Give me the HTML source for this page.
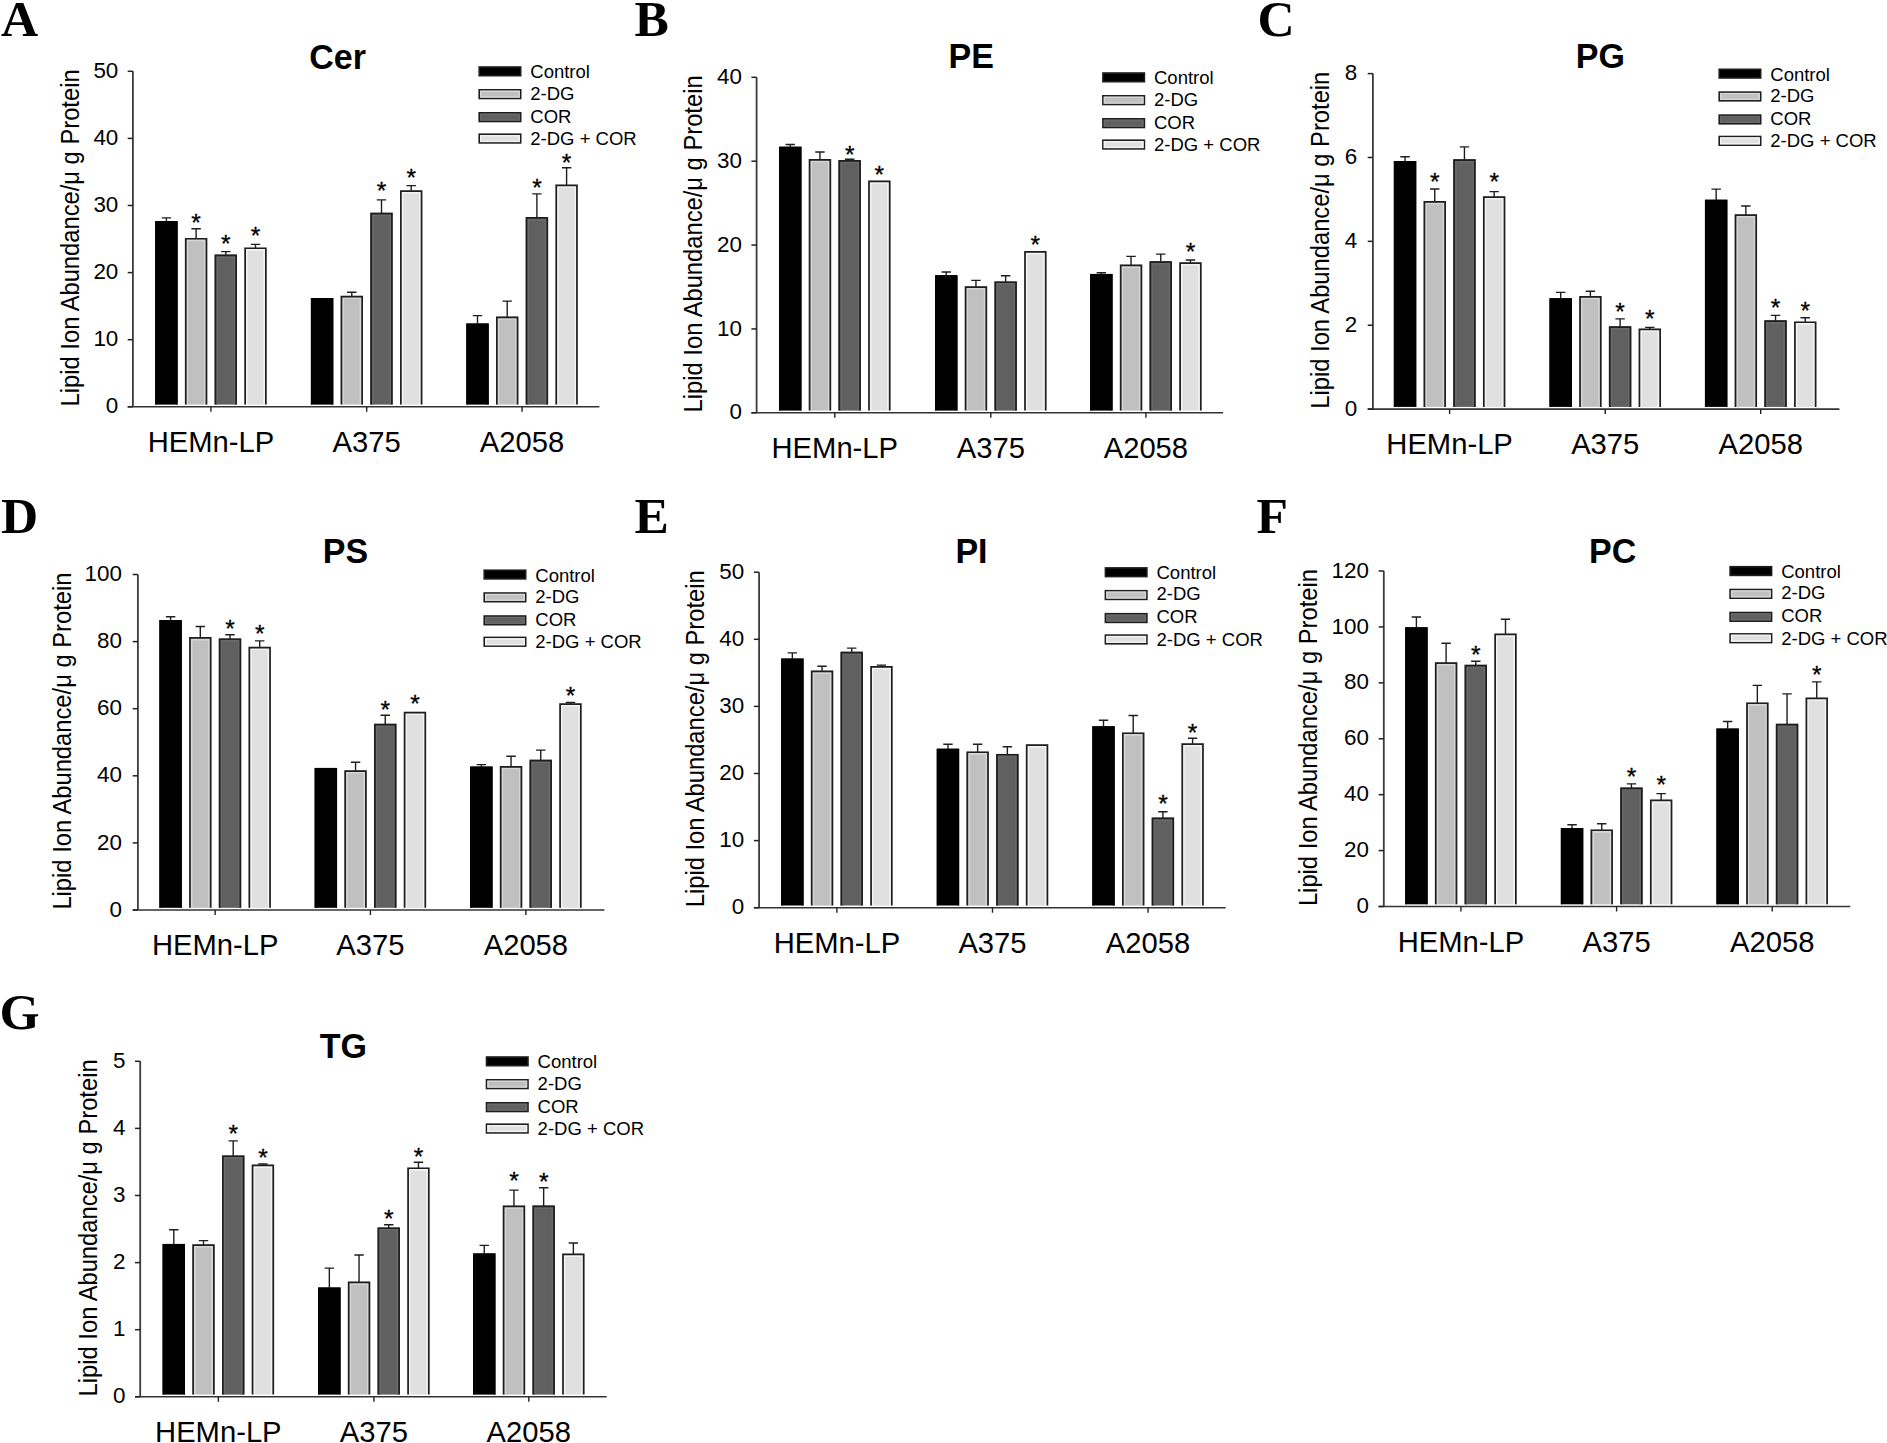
<!DOCTYPE html>
<html><head><meta charset="utf-8"><title>Lipid ion abundance</title>
<style>
html,body{margin:0;padding:0;background:#fff;}
svg{display:block;}
text{font-family:"Liberation Sans",Arial,sans-serif;fill:#000;}
.tk{font-size:22.4px;text-anchor:end;}
.cat{font-size:29.2px;text-anchor:middle;}
.yl{font-size:23.75px;}
.lg{font-size:18.5px;}
.ti{font-size:34px;font-weight:bold;text-anchor:middle;}
.pl{font-family:"Liberation Serif","Times New Roman",serif;font-size:51.5px;font-weight:bold;}
.st{font-size:24.5px;text-anchor:middle;stroke:#000;stroke-width:0.3px;}
</style></head>
<body>
<svg width="1887" height="1443" viewBox="0 0 1887 1443">
<rect width="1887" height="1443" fill="#fff"/>
<rect x="155.2" y="221" width="22.4" height="183.6" fill="#000000"/>
<path d="M156.05 404.6V221.85H176.75V404.6" fill="none" stroke="#000" stroke-width="1.7"/>
<path d="M166.4 221.5V217.9M161.7 217.9H171.1" stroke="#1e1e1e" stroke-width="1.4" fill="none"/>
<rect x="184.9" y="237.9" width="22.4" height="166.7" fill="#c0c0c0"/>
<path d="M187.4 404.6V240.4H204.8V404.6" fill="none" stroke="#d6d6d6" stroke-width="1.6"/>
<path d="M185.75 404.6V238.75H206.45V404.6" fill="none" stroke="#1e1e1e" stroke-width="1.7"/>
<path d="M196.1 238.4V228.8M191.4 228.8H200.8" stroke="#1e1e1e" stroke-width="1.4" fill="none"/>
<text x="196.1" y="231.1" class="st">*</text>
<rect x="214.6" y="254.6" width="22.4" height="150" fill="#606060"/>
<path d="M217.1 404.6V257.1H234.5V404.6" fill="none" stroke="#6a6a6a" stroke-width="1.6"/>
<path d="M215.45 404.6V255.45H236.15V404.6" fill="none" stroke="#1e1e1e" stroke-width="1.7"/>
<path d="M225.8 255.1V251.6M221.1 251.6H230.5" stroke="#1e1e1e" stroke-width="1.4" fill="none"/>
<text x="225.8" y="251.5" class="st">*</text>
<rect x="244.3" y="247.4" width="22.4" height="157.2" fill="#e0e0e0"/>
<path d="M246.8 404.6V249.9H264.2V404.6" fill="none" stroke="#f3f3f3" stroke-width="1.6"/>
<path d="M245.15 404.6V248.25H265.85V404.6" fill="none" stroke="#1e1e1e" stroke-width="1.7"/>
<path d="M255.5 247.9V244.4M250.8 244.4H260.2" stroke="#1e1e1e" stroke-width="1.4" fill="none"/>
<text x="255.5" y="244.3" class="st">*</text>
<rect x="310.9" y="298.1" width="22.4" height="106.5" fill="#000000"/>
<path d="M311.75 404.6V298.95H332.45V404.6" fill="none" stroke="#000" stroke-width="1.7"/>
<rect x="340.6" y="295.8" width="22.4" height="108.8" fill="#c0c0c0"/>
<path d="M343.1 404.6V298.3H360.5V404.6" fill="none" stroke="#d6d6d6" stroke-width="1.6"/>
<path d="M341.45 404.6V296.65H362.15V404.6" fill="none" stroke="#1e1e1e" stroke-width="1.7"/>
<path d="M351.8 296.3V292.3M347.1 292.3H356.5" stroke="#1e1e1e" stroke-width="1.4" fill="none"/>
<rect x="370.3" y="212.7" width="22.4" height="191.9" fill="#606060"/>
<path d="M372.8 404.6V215.2H390.2V404.6" fill="none" stroke="#6a6a6a" stroke-width="1.6"/>
<path d="M371.15 404.6V213.55H391.85V404.6" fill="none" stroke="#1e1e1e" stroke-width="1.7"/>
<path d="M381.5 213.2V199.9M376.8 199.9H386.2" stroke="#1e1e1e" stroke-width="1.4" fill="none"/>
<text x="381.5" y="198.7" class="st">*</text>
<rect x="400" y="190.2" width="22.4" height="214.4" fill="#e0e0e0"/>
<path d="M402.5 404.6V192.7H419.9V404.6" fill="none" stroke="#f3f3f3" stroke-width="1.6"/>
<path d="M400.85 404.6V191.05H421.55V404.6" fill="none" stroke="#1e1e1e" stroke-width="1.7"/>
<path d="M411.2 190.7V185.6M406.5 185.6H415.9" stroke="#1e1e1e" stroke-width="1.4" fill="none"/>
<text x="411.2" y="185.6" class="st">*</text>
<rect x="466.3" y="323.5" width="22.4" height="81.1" fill="#000000"/>
<path d="M467.15 404.6V324.35H487.85V404.6" fill="none" stroke="#000" stroke-width="1.7"/>
<path d="M477.5 324V315.6M472.8 315.6H482.2" stroke="#1e1e1e" stroke-width="1.4" fill="none"/>
<rect x="496" y="316.5" width="22.4" height="88.1" fill="#c0c0c0"/>
<path d="M498.5 404.6V319H515.9V404.6" fill="none" stroke="#d6d6d6" stroke-width="1.6"/>
<path d="M496.85 404.6V317.35H517.55V404.6" fill="none" stroke="#1e1e1e" stroke-width="1.7"/>
<path d="M507.2 317V301.1M502.5 301.1H511.9" stroke="#1e1e1e" stroke-width="1.4" fill="none"/>
<rect x="525.7" y="217.1" width="22.4" height="187.5" fill="#606060"/>
<path d="M528.2 404.6V219.6H545.6V404.6" fill="none" stroke="#6a6a6a" stroke-width="1.6"/>
<path d="M526.55 404.6V217.95H547.25V404.6" fill="none" stroke="#1e1e1e" stroke-width="1.7"/>
<path d="M536.9 217.6V193.9M532.2 193.9H541.6" stroke="#1e1e1e" stroke-width="1.4" fill="none"/>
<text x="536.9" y="195.5" class="st">*</text>
<rect x="555.4" y="184.5" width="22.4" height="220.1" fill="#e0e0e0"/>
<path d="M557.9 404.6V187H575.3V404.6" fill="none" stroke="#f3f3f3" stroke-width="1.6"/>
<path d="M556.25 404.6V185.35H576.95V404.6" fill="none" stroke="#1e1e1e" stroke-width="1.7"/>
<path d="M566.6 185V167.7M561.9 167.7H571.3" stroke="#1e1e1e" stroke-width="1.4" fill="none"/>
<text x="566.6" y="171.3" class="st">*</text>
<path d="M127.7 406.8H599.4" stroke="#333" stroke-width="1.6" fill="none"/>
<path d="M132.9 406.8V71.3" stroke="#3c3c3c" stroke-width="1.8" fill="none"/>
<path d="M127.7 406.8H132.9" stroke="#222" stroke-width="1.5"/>
<text x="118.3" y="413.4" class="tk">0</text>
<path d="M127.7 339.7H132.9" stroke="#222" stroke-width="1.5"/>
<text x="118.3" y="346.3" class="tk">10</text>
<path d="M127.7 272.6H132.9" stroke="#222" stroke-width="1.5"/>
<text x="118.3" y="279.2" class="tk">20</text>
<path d="M127.7 205.5H132.9" stroke="#222" stroke-width="1.5"/>
<text x="118.3" y="212.1" class="tk">30</text>
<path d="M127.7 138.4H132.9" stroke="#222" stroke-width="1.5"/>
<text x="118.3" y="145" class="tk">40</text>
<path d="M127.7 71.3H132.9" stroke="#222" stroke-width="1.5"/>
<text x="118.3" y="77.9" class="tk">50</text>
<path d="M210.95 406.8V411.8" stroke="#222" stroke-width="1.4"/>
<text x="210.95" y="451.8" class="cat">HEMn-LP</text>
<path d="M366.65 406.8V411.8" stroke="#222" stroke-width="1.4"/>
<text x="366.65" y="451.8" class="cat">A375</text>
<path d="M522.05 406.8V411.8" stroke="#222" stroke-width="1.4"/>
<text x="522.05" y="451.8" class="cat">A2058</text>
<text transform="translate(78.5 406.4) rotate(-90) scale(1 1.09)" class="yl">Lipid Ion Abundance/&#956; g Protein</text>
<rect x="479.2" y="67" width="41.5" height="8.7" fill="#000000" stroke="#1e1e1e" stroke-width="1.6"/>
<text x="530.3" y="78.4" class="lg">Control</text>
<rect x="479.2" y="89.8" width="41.5" height="8.7" fill="#c0c0c0" stroke="#1e1e1e" stroke-width="1.6"/>
<rect x="480.7" y="91.3" width="38.5" height="5.7" fill="none" stroke="#d6d6d6" stroke-width="1.4"/>
<text x="530.3" y="99.5" class="lg">2-DG</text>
<rect x="479.2" y="112.8" width="41.5" height="8.7" fill="#606060" stroke="#1e1e1e" stroke-width="1.6"/>
<rect x="480.7" y="114.3" width="38.5" height="5.7" fill="none" stroke="#6a6a6a" stroke-width="1.4"/>
<text x="530.3" y="122.5" class="lg">COR</text>
<rect x="479.2" y="134.2" width="41.5" height="8.7" fill="#e0e0e0" stroke="#1e1e1e" stroke-width="1.6"/>
<rect x="480.7" y="135.7" width="38.5" height="5.7" fill="none" stroke="#f3f3f3" stroke-width="1.4"/>
<text x="530.3" y="144.9" class="lg">2-DG + COR</text>
<text transform="translate(337.6 68.9) scale(1 1.05)" class="ti">Cer</text>
<text x="1" y="36" class="pl">A</text>
<rect x="779.05" y="146.7" width="22.4" height="263.9" fill="#000000"/>
<path d="M779.9 410.6V147.55H800.6V410.6" fill="none" stroke="#000" stroke-width="1.7"/>
<path d="M790.25 147.2V144.5M785.55 144.5H794.95" stroke="#1e1e1e" stroke-width="1.4" fill="none"/>
<rect x="808.75" y="159" width="22.4" height="251.6" fill="#c0c0c0"/>
<path d="M811.25 410.6V161.5H828.65V410.6" fill="none" stroke="#d6d6d6" stroke-width="1.6"/>
<path d="M809.6 410.6V159.85H830.3V410.6" fill="none" stroke="#1e1e1e" stroke-width="1.7"/>
<path d="M819.95 159.5V152M815.25 152H824.65" stroke="#1e1e1e" stroke-width="1.4" fill="none"/>
<rect x="838.45" y="160" width="22.4" height="250.6" fill="#606060"/>
<path d="M840.95 410.6V162.5H858.35V410.6" fill="none" stroke="#6a6a6a" stroke-width="1.6"/>
<path d="M839.3 410.6V160.85H860V410.6" fill="none" stroke="#1e1e1e" stroke-width="1.7"/>
<path d="M849.65 160.5V159.3M844.95 159.3H854.35" stroke="#1e1e1e" stroke-width="1.4" fill="none"/>
<text x="849.65" y="162.6" class="st">*</text>
<rect x="868.15" y="180.5" width="22.4" height="230.1" fill="#e0e0e0"/>
<path d="M870.65 410.6V183H888.05V410.6" fill="none" stroke="#f3f3f3" stroke-width="1.6"/>
<path d="M869 410.6V181.35H889.7V410.6" fill="none" stroke="#1e1e1e" stroke-width="1.7"/>
<text x="879.35" y="183.1" class="st">*</text>
<rect x="935.05" y="275.2" width="22.4" height="135.4" fill="#000000"/>
<path d="M935.9 410.6V276.05H956.6V410.6" fill="none" stroke="#000" stroke-width="1.7"/>
<path d="M946.25 275.7V272M941.55 272H950.95" stroke="#1e1e1e" stroke-width="1.4" fill="none"/>
<rect x="964.75" y="286.2" width="22.4" height="124.4" fill="#c0c0c0"/>
<path d="M967.25 410.6V288.7H984.65V410.6" fill="none" stroke="#d6d6d6" stroke-width="1.6"/>
<path d="M965.6 410.6V287.05H986.3V410.6" fill="none" stroke="#1e1e1e" stroke-width="1.7"/>
<path d="M975.95 286.7V280.4M971.25 280.4H980.65" stroke="#1e1e1e" stroke-width="1.4" fill="none"/>
<rect x="994.45" y="281.4" width="22.4" height="129.2" fill="#606060"/>
<path d="M996.95 410.6V283.9H1014.35V410.6" fill="none" stroke="#6a6a6a" stroke-width="1.6"/>
<path d="M995.3 410.6V282.25H1016V410.6" fill="none" stroke="#1e1e1e" stroke-width="1.7"/>
<path d="M1005.65 281.9V275.8M1000.95 275.8H1010.35" stroke="#1e1e1e" stroke-width="1.4" fill="none"/>
<rect x="1024.15" y="251.1" width="22.4" height="159.5" fill="#e0e0e0"/>
<path d="M1026.65 410.6V253.6H1044.05V410.6" fill="none" stroke="#f3f3f3" stroke-width="1.6"/>
<path d="M1025 410.6V251.95H1045.7V410.6" fill="none" stroke="#1e1e1e" stroke-width="1.7"/>
<text x="1035.35" y="252.8" class="st">*</text>
<rect x="1090.15" y="273.9" width="22.4" height="136.7" fill="#000000"/>
<path d="M1091 410.6V274.75H1111.7V410.6" fill="none" stroke="#000" stroke-width="1.7"/>
<path d="M1101.35 274.4V272.8M1096.65 272.8H1106.05" stroke="#1e1e1e" stroke-width="1.4" fill="none"/>
<rect x="1119.85" y="264.6" width="22.4" height="146" fill="#c0c0c0"/>
<path d="M1122.35 410.6V267.1H1139.75V410.6" fill="none" stroke="#d6d6d6" stroke-width="1.6"/>
<path d="M1120.7 410.6V265.45H1141.4V410.6" fill="none" stroke="#1e1e1e" stroke-width="1.7"/>
<path d="M1131.05 265.1V256.4M1126.35 256.4H1135.75" stroke="#1e1e1e" stroke-width="1.4" fill="none"/>
<rect x="1149.55" y="261.2" width="22.4" height="149.4" fill="#606060"/>
<path d="M1152.05 410.6V263.7H1169.45V410.6" fill="none" stroke="#6a6a6a" stroke-width="1.6"/>
<path d="M1150.4 410.6V262.05H1171.1V410.6" fill="none" stroke="#1e1e1e" stroke-width="1.7"/>
<path d="M1160.75 261.7V254.1M1156.05 254.1H1165.45" stroke="#1e1e1e" stroke-width="1.4" fill="none"/>
<rect x="1179.25" y="262.3" width="22.4" height="148.3" fill="#e0e0e0"/>
<path d="M1181.75 410.6V264.8H1199.15V410.6" fill="none" stroke="#f3f3f3" stroke-width="1.6"/>
<path d="M1180.1 410.6V263.15H1200.8V410.6" fill="none" stroke="#1e1e1e" stroke-width="1.7"/>
<path d="M1190.45 262.8V260M1185.75 260H1195.15" stroke="#1e1e1e" stroke-width="1.4" fill="none"/>
<text x="1190.45" y="260" class="st">*</text>
<path d="M751.4 412.8H1223.1" stroke="#333" stroke-width="1.6" fill="none"/>
<path d="M756.6 412.8V77.3" stroke="#3c3c3c" stroke-width="1.8" fill="none"/>
<path d="M751.4 412.8H756.6" stroke="#222" stroke-width="1.5"/>
<text x="741.9" y="419.4" class="tk">0</text>
<path d="M751.4 328.93H756.6" stroke="#222" stroke-width="1.5"/>
<text x="741.9" y="335.53" class="tk">10</text>
<path d="M751.4 245.05H756.6" stroke="#222" stroke-width="1.5"/>
<text x="741.9" y="251.65" class="tk">20</text>
<path d="M751.4 161.18H756.6" stroke="#222" stroke-width="1.5"/>
<text x="741.9" y="167.78" class="tk">30</text>
<path d="M751.4 77.3H756.6" stroke="#222" stroke-width="1.5"/>
<text x="741.9" y="83.9" class="tk">40</text>
<path d="M834.8 412.8V417.8" stroke="#222" stroke-width="1.4"/>
<text x="834.8" y="457.8" class="cat">HEMn-LP</text>
<path d="M990.8 412.8V417.8" stroke="#222" stroke-width="1.4"/>
<text x="990.8" y="457.8" class="cat">A375</text>
<path d="M1145.9 412.8V417.8" stroke="#222" stroke-width="1.4"/>
<text x="1145.9" y="457.8" class="cat">A2058</text>
<text transform="translate(701.6 412.4) rotate(-90) scale(1 1.09)" class="yl">Lipid Ion Abundance/&#956; g Protein</text>
<rect x="1102.9" y="73" width="41.5" height="8.7" fill="#000000" stroke="#1e1e1e" stroke-width="1.6"/>
<text x="1154" y="84.4" class="lg">Control</text>
<rect x="1102.9" y="95.8" width="41.5" height="8.7" fill="#c0c0c0" stroke="#1e1e1e" stroke-width="1.6"/>
<rect x="1104.4" y="97.3" width="38.5" height="5.7" fill="none" stroke="#d6d6d6" stroke-width="1.4"/>
<text x="1154" y="105.5" class="lg">2-DG</text>
<rect x="1102.9" y="118.8" width="41.5" height="8.7" fill="#606060" stroke="#1e1e1e" stroke-width="1.6"/>
<rect x="1104.4" y="120.3" width="38.5" height="5.7" fill="none" stroke="#6a6a6a" stroke-width="1.4"/>
<text x="1154" y="128.5" class="lg">COR</text>
<rect x="1102.9" y="140.2" width="41.5" height="8.7" fill="#e0e0e0" stroke="#1e1e1e" stroke-width="1.6"/>
<rect x="1104.4" y="141.7" width="38.5" height="5.7" fill="none" stroke="#f3f3f3" stroke-width="1.4"/>
<text x="1154" y="150.9" class="lg">2-DG + COR</text>
<text transform="translate(971.2 68.4) scale(1 1.05)" class="ti">PE</text>
<text x="634.5" y="35.8" class="pl">B</text>
<rect x="1393.85" y="161" width="22.4" height="245.9" fill="#000000"/>
<path d="M1394.7 406.9V161.85H1415.4V406.9" fill="none" stroke="#000" stroke-width="1.7"/>
<path d="M1405.05 161.5V156.8M1400.35 156.8H1409.75" stroke="#1e1e1e" stroke-width="1.4" fill="none"/>
<rect x="1423.55" y="201" width="22.4" height="205.9" fill="#c0c0c0"/>
<path d="M1426.05 406.9V203.5H1443.45V406.9" fill="none" stroke="#d6d6d6" stroke-width="1.6"/>
<path d="M1424.4 406.9V201.85H1445.1V406.9" fill="none" stroke="#1e1e1e" stroke-width="1.7"/>
<path d="M1434.75 201.5V189M1430.05 189H1439.45" stroke="#1e1e1e" stroke-width="1.4" fill="none"/>
<text x="1434.75" y="190.3" class="st">*</text>
<rect x="1453.25" y="159.2" width="22.4" height="247.7" fill="#606060"/>
<path d="M1455.75 406.9V161.7H1473.15V406.9" fill="none" stroke="#6a6a6a" stroke-width="1.6"/>
<path d="M1454.1 406.9V160.05H1474.8V406.9" fill="none" stroke="#1e1e1e" stroke-width="1.7"/>
<path d="M1464.45 159.7V146.9M1459.75 146.9H1469.15" stroke="#1e1e1e" stroke-width="1.4" fill="none"/>
<rect x="1482.95" y="196.2" width="22.4" height="210.7" fill="#e0e0e0"/>
<path d="M1485.45 406.9V198.7H1502.85V406.9" fill="none" stroke="#f3f3f3" stroke-width="1.6"/>
<path d="M1483.8 406.9V197.05H1504.5V406.9" fill="none" stroke="#1e1e1e" stroke-width="1.7"/>
<path d="M1494.15 196.7V191.6M1489.45 191.6H1498.85" stroke="#1e1e1e" stroke-width="1.4" fill="none"/>
<text x="1494.15" y="190.3" class="st">*</text>
<rect x="1549.5" y="298.3" width="22.4" height="108.6" fill="#000000"/>
<path d="M1550.35 406.9V299.15H1571.05V406.9" fill="none" stroke="#000" stroke-width="1.7"/>
<path d="M1560.7 298.8V292.4M1556 292.4H1565.4" stroke="#1e1e1e" stroke-width="1.4" fill="none"/>
<rect x="1579.2" y="296" width="22.4" height="110.9" fill="#c0c0c0"/>
<path d="M1581.7 406.9V298.5H1599.1V406.9" fill="none" stroke="#d6d6d6" stroke-width="1.6"/>
<path d="M1580.05 406.9V296.85H1600.75V406.9" fill="none" stroke="#1e1e1e" stroke-width="1.7"/>
<path d="M1590.4 296.5V291.3M1585.7 291.3H1595.1" stroke="#1e1e1e" stroke-width="1.4" fill="none"/>
<rect x="1608.9" y="326.3" width="22.4" height="80.6" fill="#606060"/>
<path d="M1611.4 406.9V328.8H1628.8V406.9" fill="none" stroke="#6a6a6a" stroke-width="1.6"/>
<path d="M1609.75 406.9V327.15H1630.45V406.9" fill="none" stroke="#1e1e1e" stroke-width="1.7"/>
<path d="M1620.1 326.8V318.9M1615.4 318.9H1624.8" stroke="#1e1e1e" stroke-width="1.4" fill="none"/>
<text x="1620.1" y="320.1" class="st">*</text>
<rect x="1638.6" y="328.5" width="22.4" height="78.4" fill="#e0e0e0"/>
<path d="M1641.1 406.9V331H1658.5V406.9" fill="none" stroke="#f3f3f3" stroke-width="1.6"/>
<path d="M1639.45 406.9V329.35H1660.15V406.9" fill="none" stroke="#1e1e1e" stroke-width="1.7"/>
<path d="M1649.8 329V327.4M1645.1 327.4H1654.5" stroke="#1e1e1e" stroke-width="1.4" fill="none"/>
<text x="1649.8" y="327.3" class="st">*</text>
<rect x="1704.95" y="199.7" width="22.4" height="207.2" fill="#000000"/>
<path d="M1705.8 406.9V200.55H1726.5V406.9" fill="none" stroke="#000" stroke-width="1.7"/>
<path d="M1716.15 200.2V189.1M1711.45 189.1H1720.85" stroke="#1e1e1e" stroke-width="1.4" fill="none"/>
<rect x="1734.65" y="214.3" width="22.4" height="192.6" fill="#c0c0c0"/>
<path d="M1737.15 406.9V216.8H1754.55V406.9" fill="none" stroke="#d6d6d6" stroke-width="1.6"/>
<path d="M1735.5 406.9V215.15H1756.2V406.9" fill="none" stroke="#1e1e1e" stroke-width="1.7"/>
<path d="M1745.85 214.8V206M1741.15 206H1750.55" stroke="#1e1e1e" stroke-width="1.4" fill="none"/>
<rect x="1764.35" y="320.3" width="22.4" height="86.6" fill="#606060"/>
<path d="M1766.85 406.9V322.8H1784.25V406.9" fill="none" stroke="#6a6a6a" stroke-width="1.6"/>
<path d="M1765.2 406.9V321.15H1785.9V406.9" fill="none" stroke="#1e1e1e" stroke-width="1.7"/>
<path d="M1775.55 320.8V315.4M1770.85 315.4H1780.25" stroke="#1e1e1e" stroke-width="1.4" fill="none"/>
<text x="1775.55" y="316.3" class="st">*</text>
<rect x="1794.05" y="321.4" width="22.4" height="85.5" fill="#e0e0e0"/>
<path d="M1796.55 406.9V323.9H1813.95V406.9" fill="none" stroke="#f3f3f3" stroke-width="1.6"/>
<path d="M1794.9 406.9V322.25H1815.6V406.9" fill="none" stroke="#1e1e1e" stroke-width="1.7"/>
<path d="M1805.25 321.9V317.7M1800.55 317.7H1809.95" stroke="#1e1e1e" stroke-width="1.4" fill="none"/>
<text x="1805.25" y="318.9" class="st">*</text>
<path d="M1367.7 409.1H1839.4" stroke="#333" stroke-width="1.6" fill="none"/>
<path d="M1372.9 409.1V73.6" stroke="#3c3c3c" stroke-width="1.8" fill="none"/>
<path d="M1367.7 409.1H1372.9" stroke="#222" stroke-width="1.5"/>
<text x="1357.2" y="415.7" class="tk">0</text>
<path d="M1367.7 325.23H1372.9" stroke="#222" stroke-width="1.5"/>
<text x="1357.2" y="331.83" class="tk">2</text>
<path d="M1367.7 241.35H1372.9" stroke="#222" stroke-width="1.5"/>
<text x="1357.2" y="247.95" class="tk">4</text>
<path d="M1367.7 157.48H1372.9" stroke="#222" stroke-width="1.5"/>
<text x="1357.2" y="164.08" class="tk">6</text>
<path d="M1367.7 73.6H1372.9" stroke="#222" stroke-width="1.5"/>
<text x="1357.2" y="80.2" class="tk">8</text>
<path d="M1449.6 409.1V414.1" stroke="#222" stroke-width="1.4"/>
<text x="1449.6" y="454.1" class="cat">HEMn-LP</text>
<path d="M1605.25 409.1V414.1" stroke="#222" stroke-width="1.4"/>
<text x="1605.25" y="454.1" class="cat">A375</text>
<path d="M1760.7 409.1V414.1" stroke="#222" stroke-width="1.4"/>
<text x="1760.7" y="454.1" class="cat">A2058</text>
<text transform="translate(1328.9 408.7) rotate(-90) scale(1 1.09)" class="yl">Lipid Ion Abundance/&#956; g Protein</text>
<rect x="1719.2" y="69.3" width="41.5" height="8.7" fill="#000000" stroke="#1e1e1e" stroke-width="1.6"/>
<text x="1770.3" y="80.7" class="lg">Control</text>
<rect x="1719.2" y="92.1" width="41.5" height="8.7" fill="#c0c0c0" stroke="#1e1e1e" stroke-width="1.6"/>
<rect x="1720.7" y="93.6" width="38.5" height="5.7" fill="none" stroke="#d6d6d6" stroke-width="1.4"/>
<text x="1770.3" y="101.8" class="lg">2-DG</text>
<rect x="1719.2" y="115.1" width="41.5" height="8.7" fill="#606060" stroke="#1e1e1e" stroke-width="1.6"/>
<rect x="1720.7" y="116.6" width="38.5" height="5.7" fill="none" stroke="#6a6a6a" stroke-width="1.4"/>
<text x="1770.3" y="124.8" class="lg">COR</text>
<rect x="1719.2" y="136.5" width="41.5" height="8.7" fill="#e0e0e0" stroke="#1e1e1e" stroke-width="1.6"/>
<rect x="1720.7" y="138" width="38.5" height="5.7" fill="none" stroke="#f3f3f3" stroke-width="1.4"/>
<text x="1770.3" y="147.2" class="lg">2-DG + COR</text>
<text transform="translate(1600.4 68.4) scale(1 1.05)" class="ti">PG</text>
<text x="1257.5" y="35.8" class="pl">C</text>
<rect x="159.4" y="620" width="22.4" height="287.8" fill="#000000"/>
<path d="M160.25 907.8V620.85H180.95V907.8" fill="none" stroke="#000" stroke-width="1.7"/>
<path d="M170.6 620.5V616.8M165.9 616.8H175.3" stroke="#1e1e1e" stroke-width="1.4" fill="none"/>
<rect x="189.1" y="637.1" width="22.4" height="270.7" fill="#c0c0c0"/>
<path d="M191.6 907.8V639.6H209V907.8" fill="none" stroke="#d6d6d6" stroke-width="1.6"/>
<path d="M189.95 907.8V637.95H210.65V907.8" fill="none" stroke="#1e1e1e" stroke-width="1.7"/>
<path d="M200.3 637.6V626.5M195.6 626.5H205" stroke="#1e1e1e" stroke-width="1.4" fill="none"/>
<rect x="218.8" y="638.4" width="22.4" height="269.4" fill="#606060"/>
<path d="M221.3 907.8V640.9H238.7V907.8" fill="none" stroke="#6a6a6a" stroke-width="1.6"/>
<path d="M219.65 907.8V639.25H240.35V907.8" fill="none" stroke="#1e1e1e" stroke-width="1.7"/>
<path d="M230 638.9V634.8M225.3 634.8H234.7" stroke="#1e1e1e" stroke-width="1.4" fill="none"/>
<text x="230" y="637.3" class="st">*</text>
<rect x="248.5" y="646.7" width="22.4" height="261.1" fill="#e0e0e0"/>
<path d="M251 907.8V649.2H268.4V907.8" fill="none" stroke="#f3f3f3" stroke-width="1.6"/>
<path d="M249.35 907.8V647.55H270.05V907.8" fill="none" stroke="#1e1e1e" stroke-width="1.7"/>
<path d="M259.7 647.2V640.9M255 640.9H264.4" stroke="#1e1e1e" stroke-width="1.4" fill="none"/>
<text x="259.7" y="642.1" class="st">*</text>
<rect x="314.65" y="767.9" width="22.4" height="139.9" fill="#000000"/>
<path d="M315.5 907.8V768.75H336.2V907.8" fill="none" stroke="#000" stroke-width="1.7"/>
<rect x="344.35" y="770.3" width="22.4" height="137.5" fill="#c0c0c0"/>
<path d="M346.85 907.8V772.8H364.25V907.8" fill="none" stroke="#d6d6d6" stroke-width="1.6"/>
<path d="M345.2 907.8V771.15H365.9V907.8" fill="none" stroke="#1e1e1e" stroke-width="1.7"/>
<path d="M355.55 770.8V762.3M350.85 762.3H360.25" stroke="#1e1e1e" stroke-width="1.4" fill="none"/>
<rect x="374.05" y="723.8" width="22.4" height="184" fill="#606060"/>
<path d="M376.55 907.8V726.3H393.95V907.8" fill="none" stroke="#6a6a6a" stroke-width="1.6"/>
<path d="M374.9 907.8V724.65H395.6V907.8" fill="none" stroke="#1e1e1e" stroke-width="1.7"/>
<path d="M385.25 724.3V715.3M380.55 715.3H389.95" stroke="#1e1e1e" stroke-width="1.4" fill="none"/>
<text x="385.25" y="717.7" class="st">*</text>
<rect x="403.75" y="711.7" width="22.4" height="196.1" fill="#e0e0e0"/>
<path d="M406.25 907.8V714.2H423.65V907.8" fill="none" stroke="#f3f3f3" stroke-width="1.6"/>
<path d="M404.6 907.8V712.55H425.3V907.8" fill="none" stroke="#1e1e1e" stroke-width="1.7"/>
<text x="414.95" y="711.8" class="st">*</text>
<rect x="470.15" y="766.6" width="22.4" height="141.2" fill="#000000"/>
<path d="M471 907.8V767.45H491.7V907.8" fill="none" stroke="#000" stroke-width="1.7"/>
<path d="M481.35 767.1V764.6M476.65 764.6H486.05" stroke="#1e1e1e" stroke-width="1.4" fill="none"/>
<rect x="499.85" y="766" width="22.4" height="141.8" fill="#c0c0c0"/>
<path d="M502.35 907.8V768.5H519.75V907.8" fill="none" stroke="#d6d6d6" stroke-width="1.6"/>
<path d="M500.7 907.8V766.85H521.4V907.8" fill="none" stroke="#1e1e1e" stroke-width="1.7"/>
<path d="M511.05 766.5V756.2M506.35 756.2H515.75" stroke="#1e1e1e" stroke-width="1.4" fill="none"/>
<rect x="529.55" y="759.7" width="22.4" height="148.1" fill="#606060"/>
<path d="M532.05 907.8V762.2H549.45V907.8" fill="none" stroke="#6a6a6a" stroke-width="1.6"/>
<path d="M530.4 907.8V760.55H551.1V907.8" fill="none" stroke="#1e1e1e" stroke-width="1.7"/>
<path d="M540.75 760.2V750.1M536.05 750.1H545.45" stroke="#1e1e1e" stroke-width="1.4" fill="none"/>
<rect x="559.25" y="703.2" width="22.4" height="204.6" fill="#e0e0e0"/>
<path d="M561.75 907.8V705.7H579.15V907.8" fill="none" stroke="#f3f3f3" stroke-width="1.6"/>
<path d="M560.1 907.8V704.05H580.8V907.8" fill="none" stroke="#1e1e1e" stroke-width="1.7"/>
<path d="M570.45 703.7V702.5M565.75 702.5H575.15" stroke="#1e1e1e" stroke-width="1.4" fill="none"/>
<text x="570.45" y="703.5" class="st">*</text>
<path d="M132.7 910H604.4" stroke="#333" stroke-width="1.6" fill="none"/>
<path d="M137.9 910V574.5" stroke="#3c3c3c" stroke-width="1.8" fill="none"/>
<path d="M132.7 910H137.9" stroke="#222" stroke-width="1.5"/>
<text x="121.9" y="916.6" class="tk">0</text>
<path d="M132.7 842.9H137.9" stroke="#222" stroke-width="1.5"/>
<text x="121.9" y="849.5" class="tk">20</text>
<path d="M132.7 775.8H137.9" stroke="#222" stroke-width="1.5"/>
<text x="121.9" y="782.4" class="tk">40</text>
<path d="M132.7 708.7H137.9" stroke="#222" stroke-width="1.5"/>
<text x="121.9" y="715.3" class="tk">60</text>
<path d="M132.7 641.6H137.9" stroke="#222" stroke-width="1.5"/>
<text x="121.9" y="648.2" class="tk">80</text>
<path d="M132.7 574.5H137.9" stroke="#222" stroke-width="1.5"/>
<text x="121.9" y="581.1" class="tk">100</text>
<path d="M215.15 910V915" stroke="#222" stroke-width="1.4"/>
<text x="215.15" y="955" class="cat">HEMn-LP</text>
<path d="M370.4 910V915" stroke="#222" stroke-width="1.4"/>
<text x="370.4" y="955" class="cat">A375</text>
<path d="M525.9 910V915" stroke="#222" stroke-width="1.4"/>
<text x="525.9" y="955" class="cat">A2058</text>
<text transform="translate(71 909.6) rotate(-90) scale(1 1.09)" class="yl">Lipid Ion Abundance/&#956; g Protein</text>
<rect x="484.2" y="570.2" width="41.5" height="8.7" fill="#000000" stroke="#1e1e1e" stroke-width="1.6"/>
<text x="535.3" y="581.6" class="lg">Control</text>
<rect x="484.2" y="593" width="41.5" height="8.7" fill="#c0c0c0" stroke="#1e1e1e" stroke-width="1.6"/>
<rect x="485.7" y="594.5" width="38.5" height="5.7" fill="none" stroke="#d6d6d6" stroke-width="1.4"/>
<text x="535.3" y="602.7" class="lg">2-DG</text>
<rect x="484.2" y="616" width="41.5" height="8.7" fill="#606060" stroke="#1e1e1e" stroke-width="1.6"/>
<rect x="485.7" y="617.5" width="38.5" height="5.7" fill="none" stroke="#6a6a6a" stroke-width="1.4"/>
<text x="535.3" y="625.7" class="lg">COR</text>
<rect x="484.2" y="637.4" width="41.5" height="8.7" fill="#e0e0e0" stroke="#1e1e1e" stroke-width="1.6"/>
<rect x="485.7" y="638.9" width="38.5" height="5.7" fill="none" stroke="#f3f3f3" stroke-width="1.4"/>
<text x="535.3" y="648.1" class="lg">2-DG + COR</text>
<text transform="translate(345.4 563.4) scale(1 1.05)" class="ti">PS</text>
<text x="1" y="533.4" class="pl">D</text>
<rect x="781.15" y="658.6" width="22.4" height="246.9" fill="#000000"/>
<path d="M782 905.5V659.45H802.7V905.5" fill="none" stroke="#000" stroke-width="1.7"/>
<path d="M792.35 659.1V652.9M787.65 652.9H797.05" stroke="#1e1e1e" stroke-width="1.4" fill="none"/>
<rect x="810.85" y="670.6" width="22.4" height="234.9" fill="#c0c0c0"/>
<path d="M813.35 905.5V673.1H830.75V905.5" fill="none" stroke="#d6d6d6" stroke-width="1.6"/>
<path d="M811.7 905.5V671.45H832.4V905.5" fill="none" stroke="#1e1e1e" stroke-width="1.7"/>
<path d="M822.05 671.1V666.2M817.35 666.2H826.75" stroke="#1e1e1e" stroke-width="1.4" fill="none"/>
<rect x="840.55" y="651.7" width="22.4" height="253.8" fill="#606060"/>
<path d="M843.05 905.5V654.2H860.45V905.5" fill="none" stroke="#6a6a6a" stroke-width="1.6"/>
<path d="M841.4 905.5V652.55H862.1V905.5" fill="none" stroke="#1e1e1e" stroke-width="1.7"/>
<path d="M851.75 652.2V648.1M847.05 648.1H856.45" stroke="#1e1e1e" stroke-width="1.4" fill="none"/>
<rect x="870.25" y="666" width="22.4" height="239.5" fill="#e0e0e0"/>
<path d="M872.75 905.5V668.5H890.15V905.5" fill="none" stroke="#f3f3f3" stroke-width="1.6"/>
<path d="M871.1 905.5V666.85H891.8V905.5" fill="none" stroke="#1e1e1e" stroke-width="1.7"/>
<path d="M881.45 666.5V665.1M876.75 665.1H886.15" stroke="#1e1e1e" stroke-width="1.4" fill="none"/>
<rect x="936.75" y="748.7" width="22.4" height="156.8" fill="#000000"/>
<path d="M937.6 905.5V749.55H958.3V905.5" fill="none" stroke="#000" stroke-width="1.7"/>
<path d="M947.95 749.2V744.3M943.25 744.3H952.65" stroke="#1e1e1e" stroke-width="1.4" fill="none"/>
<rect x="966.45" y="751.4" width="22.4" height="154.1" fill="#c0c0c0"/>
<path d="M968.95 905.5V753.9H986.35V905.5" fill="none" stroke="#d6d6d6" stroke-width="1.6"/>
<path d="M967.3 905.5V752.25H988V905.5" fill="none" stroke="#1e1e1e" stroke-width="1.7"/>
<path d="M977.65 751.9V744.3M972.95 744.3H982.35" stroke="#1e1e1e" stroke-width="1.4" fill="none"/>
<rect x="996.15" y="753.9" width="22.4" height="151.6" fill="#606060"/>
<path d="M998.65 905.5V756.4H1016.05V905.5" fill="none" stroke="#6a6a6a" stroke-width="1.6"/>
<path d="M997 905.5V754.75H1017.7V905.5" fill="none" stroke="#1e1e1e" stroke-width="1.7"/>
<path d="M1007.35 754.4V746.8M1002.65 746.8H1012.05" stroke="#1e1e1e" stroke-width="1.4" fill="none"/>
<rect x="1025.85" y="744.2" width="22.4" height="161.3" fill="#e0e0e0"/>
<path d="M1028.35 905.5V746.7H1045.75V905.5" fill="none" stroke="#f3f3f3" stroke-width="1.6"/>
<path d="M1026.7 905.5V745.05H1047.4V905.5" fill="none" stroke="#1e1e1e" stroke-width="1.7"/>
<rect x="1092.3" y="726.3" width="22.4" height="179.2" fill="#000000"/>
<path d="M1093.15 905.5V727.15H1113.85V905.5" fill="none" stroke="#000" stroke-width="1.7"/>
<path d="M1103.5 726.8V720.3M1098.8 720.3H1108.2" stroke="#1e1e1e" stroke-width="1.4" fill="none"/>
<rect x="1122" y="732.4" width="22.4" height="173.1" fill="#c0c0c0"/>
<path d="M1124.5 905.5V734.9H1141.9V905.5" fill="none" stroke="#d6d6d6" stroke-width="1.6"/>
<path d="M1122.85 905.5V733.25H1143.55V905.5" fill="none" stroke="#1e1e1e" stroke-width="1.7"/>
<path d="M1133.2 732.9V715.5M1128.5 715.5H1137.9" stroke="#1e1e1e" stroke-width="1.4" fill="none"/>
<rect x="1151.7" y="817.6" width="22.4" height="87.9" fill="#606060"/>
<path d="M1154.2 905.5V820.1H1171.6V905.5" fill="none" stroke="#6a6a6a" stroke-width="1.6"/>
<path d="M1152.55 905.5V818.45H1173.25V905.5" fill="none" stroke="#1e1e1e" stroke-width="1.7"/>
<path d="M1162.9 818.1V811.7M1158.2 811.7H1167.6" stroke="#1e1e1e" stroke-width="1.4" fill="none"/>
<text x="1162.9" y="811.8" class="st">*</text>
<rect x="1181.4" y="743.3" width="22.4" height="162.2" fill="#e0e0e0"/>
<path d="M1183.9 905.5V745.8H1201.3V905.5" fill="none" stroke="#f3f3f3" stroke-width="1.6"/>
<path d="M1182.25 905.5V744.15H1202.95V905.5" fill="none" stroke="#1e1e1e" stroke-width="1.7"/>
<path d="M1192.6 743.8V738.3M1187.9 738.3H1197.3" stroke="#1e1e1e" stroke-width="1.4" fill="none"/>
<text x="1192.6" y="740.7" class="st">*</text>
<path d="M753.9 907.7H1225.6" stroke="#333" stroke-width="1.6" fill="none"/>
<path d="M759.1 907.7V572.2" stroke="#3c3c3c" stroke-width="1.8" fill="none"/>
<path d="M753.9 907.7H759.1" stroke="#222" stroke-width="1.5"/>
<text x="744.2" y="914.3" class="tk">0</text>
<path d="M753.9 840.6H759.1" stroke="#222" stroke-width="1.5"/>
<text x="744.2" y="847.2" class="tk">10</text>
<path d="M753.9 773.5H759.1" stroke="#222" stroke-width="1.5"/>
<text x="744.2" y="780.1" class="tk">20</text>
<path d="M753.9 706.4H759.1" stroke="#222" stroke-width="1.5"/>
<text x="744.2" y="713" class="tk">30</text>
<path d="M753.9 639.3H759.1" stroke="#222" stroke-width="1.5"/>
<text x="744.2" y="645.9" class="tk">40</text>
<path d="M753.9 572.2H759.1" stroke="#222" stroke-width="1.5"/>
<text x="744.2" y="578.8" class="tk">50</text>
<path d="M836.9 907.7V912.7" stroke="#222" stroke-width="1.4"/>
<text x="836.9" y="952.7" class="cat">HEMn-LP</text>
<path d="M992.5 907.7V912.7" stroke="#222" stroke-width="1.4"/>
<text x="992.5" y="952.7" class="cat">A375</text>
<path d="M1148.05 907.7V912.7" stroke="#222" stroke-width="1.4"/>
<text x="1148.05" y="952.7" class="cat">A2058</text>
<text transform="translate(704.1 907.3) rotate(-90) scale(1 1.09)" class="yl">Lipid Ion Abundance/&#956; g Protein</text>
<rect x="1105.4" y="567.9" width="41.5" height="8.7" fill="#000000" stroke="#1e1e1e" stroke-width="1.6"/>
<text x="1156.5" y="579.3" class="lg">Control</text>
<rect x="1105.4" y="590.7" width="41.5" height="8.7" fill="#c0c0c0" stroke="#1e1e1e" stroke-width="1.6"/>
<rect x="1106.9" y="592.2" width="38.5" height="5.7" fill="none" stroke="#d6d6d6" stroke-width="1.4"/>
<text x="1156.5" y="600.4" class="lg">2-DG</text>
<rect x="1105.4" y="613.7" width="41.5" height="8.7" fill="#606060" stroke="#1e1e1e" stroke-width="1.6"/>
<rect x="1106.9" y="615.2" width="38.5" height="5.7" fill="none" stroke="#6a6a6a" stroke-width="1.4"/>
<text x="1156.5" y="623.4" class="lg">COR</text>
<rect x="1105.4" y="635.1" width="41.5" height="8.7" fill="#e0e0e0" stroke="#1e1e1e" stroke-width="1.6"/>
<rect x="1106.9" y="636.6" width="38.5" height="5.7" fill="none" stroke="#f3f3f3" stroke-width="1.4"/>
<text x="1156.5" y="645.8" class="lg">2-DG + COR</text>
<text transform="translate(971.45 563.4) scale(1 1.05)" class="ti">PI</text>
<text x="634.5" y="533.4" class="pl">E</text>
<rect x="1405.2" y="627.3" width="22.4" height="277" fill="#000000"/>
<path d="M1406.05 904.3V628.15H1426.75V904.3" fill="none" stroke="#000" stroke-width="1.7"/>
<path d="M1416.4 627.8V617M1411.7 617H1421.1" stroke="#1e1e1e" stroke-width="1.4" fill="none"/>
<rect x="1434.9" y="662.3" width="22.4" height="242" fill="#c0c0c0"/>
<path d="M1437.4 904.3V664.8H1454.8V904.3" fill="none" stroke="#d6d6d6" stroke-width="1.6"/>
<path d="M1435.75 904.3V663.15H1456.45V904.3" fill="none" stroke="#1e1e1e" stroke-width="1.7"/>
<path d="M1446.1 662.8V643.3M1441.4 643.3H1450.8" stroke="#1e1e1e" stroke-width="1.4" fill="none"/>
<rect x="1464.6" y="664.8" width="22.4" height="239.5" fill="#606060"/>
<path d="M1467.1 904.3V667.3H1484.5V904.3" fill="none" stroke="#6a6a6a" stroke-width="1.6"/>
<path d="M1465.45 904.3V665.65H1486.15V904.3" fill="none" stroke="#1e1e1e" stroke-width="1.7"/>
<path d="M1475.8 665.3V661.3M1471.1 661.3H1480.5" stroke="#1e1e1e" stroke-width="1.4" fill="none"/>
<text x="1475.8" y="662.6" class="st">*</text>
<rect x="1494.3" y="633.6" width="22.4" height="270.7" fill="#e0e0e0"/>
<path d="M1496.8 904.3V636.1H1514.2V904.3" fill="none" stroke="#f3f3f3" stroke-width="1.6"/>
<path d="M1495.15 904.3V634.45H1515.85V904.3" fill="none" stroke="#1e1e1e" stroke-width="1.7"/>
<path d="M1505.5 634.1V619.3M1500.8 619.3H1510.2" stroke="#1e1e1e" stroke-width="1.4" fill="none"/>
<rect x="1560.85" y="828.1" width="22.4" height="76.2" fill="#000000"/>
<path d="M1561.7 904.3V828.95H1582.4V904.3" fill="none" stroke="#000" stroke-width="1.7"/>
<path d="M1572.05 828.6V824.8M1567.35 824.8H1576.75" stroke="#1e1e1e" stroke-width="1.4" fill="none"/>
<rect x="1590.55" y="829.4" width="22.4" height="74.9" fill="#c0c0c0"/>
<path d="M1593.05 904.3V831.9H1610.45V904.3" fill="none" stroke="#d6d6d6" stroke-width="1.6"/>
<path d="M1591.4 904.3V830.25H1612.1V904.3" fill="none" stroke="#1e1e1e" stroke-width="1.7"/>
<path d="M1601.75 829.9V823.7M1597.05 823.7H1606.45" stroke="#1e1e1e" stroke-width="1.4" fill="none"/>
<rect x="1620.25" y="787.5" width="22.4" height="116.8" fill="#606060"/>
<path d="M1622.75 904.3V790H1640.15V904.3" fill="none" stroke="#6a6a6a" stroke-width="1.6"/>
<path d="M1621.1 904.3V788.35H1641.8V904.3" fill="none" stroke="#1e1e1e" stroke-width="1.7"/>
<path d="M1631.45 788V783.9M1626.75 783.9H1636.15" stroke="#1e1e1e" stroke-width="1.4" fill="none"/>
<text x="1631.45" y="785" class="st">*</text>
<rect x="1649.95" y="799.5" width="22.4" height="104.8" fill="#e0e0e0"/>
<path d="M1652.45 904.3V802H1669.85V904.3" fill="none" stroke="#f3f3f3" stroke-width="1.6"/>
<path d="M1650.8 904.3V800.35H1671.5V904.3" fill="none" stroke="#1e1e1e" stroke-width="1.7"/>
<path d="M1661.15 800V793.6M1656.45 793.6H1665.85" stroke="#1e1e1e" stroke-width="1.4" fill="none"/>
<text x="1661.15" y="793.4" class="st">*</text>
<rect x="1716.45" y="728.6" width="22.4" height="175.7" fill="#000000"/>
<path d="M1717.3 904.3V729.45H1738V904.3" fill="none" stroke="#000" stroke-width="1.7"/>
<path d="M1727.65 729.1V721.5M1722.95 721.5H1732.35" stroke="#1e1e1e" stroke-width="1.4" fill="none"/>
<rect x="1746.15" y="702.4" width="22.4" height="201.9" fill="#c0c0c0"/>
<path d="M1748.65 904.3V704.9H1766.05V904.3" fill="none" stroke="#d6d6d6" stroke-width="1.6"/>
<path d="M1747 904.3V703.25H1767.7V904.3" fill="none" stroke="#1e1e1e" stroke-width="1.7"/>
<path d="M1757.35 702.9V685.4M1752.65 685.4H1762.05" stroke="#1e1e1e" stroke-width="1.4" fill="none"/>
<rect x="1775.85" y="723.8" width="22.4" height="180.5" fill="#606060"/>
<path d="M1778.35 904.3V726.3H1795.75V904.3" fill="none" stroke="#6a6a6a" stroke-width="1.6"/>
<path d="M1776.7 904.3V724.65H1797.4V904.3" fill="none" stroke="#1e1e1e" stroke-width="1.7"/>
<path d="M1787.05 724.3V693.9M1782.35 693.9H1791.75" stroke="#1e1e1e" stroke-width="1.4" fill="none"/>
<rect x="1805.55" y="697.5" width="22.4" height="206.8" fill="#e0e0e0"/>
<path d="M1808.05 904.3V700H1825.45V904.3" fill="none" stroke="#f3f3f3" stroke-width="1.6"/>
<path d="M1806.4 904.3V698.35H1827.1V904.3" fill="none" stroke="#1e1e1e" stroke-width="1.7"/>
<path d="M1816.75 698V681.9M1812.05 681.9H1821.45" stroke="#1e1e1e" stroke-width="1.4" fill="none"/>
<text x="1816.75" y="683" class="st">*</text>
<path d="M1378.6 906.5H1850.3" stroke="#333" stroke-width="1.6" fill="none"/>
<path d="M1383.8 906.5V571" stroke="#3c3c3c" stroke-width="1.8" fill="none"/>
<path d="M1378.6 906.5H1383.8" stroke="#222" stroke-width="1.5"/>
<text x="1368.9" y="913.1" class="tk">0</text>
<path d="M1378.6 850.58H1383.8" stroke="#222" stroke-width="1.5"/>
<text x="1368.9" y="857.18" class="tk">20</text>
<path d="M1378.6 794.67H1383.8" stroke="#222" stroke-width="1.5"/>
<text x="1368.9" y="801.27" class="tk">40</text>
<path d="M1378.6 738.75H1383.8" stroke="#222" stroke-width="1.5"/>
<text x="1368.9" y="745.35" class="tk">60</text>
<path d="M1378.6 682.83H1383.8" stroke="#222" stroke-width="1.5"/>
<text x="1368.9" y="689.43" class="tk">80</text>
<path d="M1378.6 626.92H1383.8" stroke="#222" stroke-width="1.5"/>
<text x="1368.9" y="633.52" class="tk">100</text>
<path d="M1378.6 571H1383.8" stroke="#222" stroke-width="1.5"/>
<text x="1368.9" y="577.6" class="tk">120</text>
<path d="M1460.95 906.5V911.5" stroke="#222" stroke-width="1.4"/>
<text x="1460.95" y="951.5" class="cat">HEMn-LP</text>
<path d="M1616.6 906.5V911.5" stroke="#222" stroke-width="1.4"/>
<text x="1616.6" y="951.5" class="cat">A375</text>
<path d="M1772.2 906.5V911.5" stroke="#222" stroke-width="1.4"/>
<text x="1772.2" y="951.5" class="cat">A2058</text>
<text transform="translate(1316.8 906.1) rotate(-90) scale(1 1.09)" class="yl">Lipid Ion Abundance/&#956; g Protein</text>
<rect x="1730.1" y="566.7" width="41.5" height="8.7" fill="#000000" stroke="#1e1e1e" stroke-width="1.6"/>
<text x="1781.2" y="578.1" class="lg">Control</text>
<rect x="1730.1" y="589.5" width="41.5" height="8.7" fill="#c0c0c0" stroke="#1e1e1e" stroke-width="1.6"/>
<rect x="1731.6" y="591" width="38.5" height="5.7" fill="none" stroke="#d6d6d6" stroke-width="1.4"/>
<text x="1781.2" y="599.2" class="lg">2-DG</text>
<rect x="1730.1" y="612.5" width="41.5" height="8.7" fill="#606060" stroke="#1e1e1e" stroke-width="1.6"/>
<rect x="1731.6" y="614" width="38.5" height="5.7" fill="none" stroke="#6a6a6a" stroke-width="1.4"/>
<text x="1781.2" y="622.2" class="lg">COR</text>
<rect x="1730.1" y="633.9" width="41.5" height="8.7" fill="#e0e0e0" stroke="#1e1e1e" stroke-width="1.6"/>
<rect x="1731.6" y="635.4" width="38.5" height="5.7" fill="none" stroke="#f3f3f3" stroke-width="1.4"/>
<text x="1781.2" y="644.6" class="lg">2-DG + COR</text>
<text transform="translate(1612.7 563.4) scale(1 1.05)" class="ti">PC</text>
<text x="1256.5" y="533.4" class="pl">F</text>
<rect x="162.6" y="1243.9" width="22.4" height="150.7" fill="#000000"/>
<path d="M163.45 1394.6V1244.75H184.15V1394.6" fill="none" stroke="#000" stroke-width="1.7"/>
<path d="M173.8 1244.4V1229.8M169.1 1229.8H178.5" stroke="#1e1e1e" stroke-width="1.4" fill="none"/>
<rect x="192.3" y="1244.2" width="22.4" height="150.4" fill="#c0c0c0"/>
<path d="M194.8 1394.6V1246.7H212.2V1394.6" fill="none" stroke="#d6d6d6" stroke-width="1.6"/>
<path d="M193.15 1394.6V1245.05H213.85V1394.6" fill="none" stroke="#1e1e1e" stroke-width="1.7"/>
<path d="M203.5 1244.7V1240.6M198.8 1240.6H208.2" stroke="#1e1e1e" stroke-width="1.4" fill="none"/>
<rect x="222" y="1155.4" width="22.4" height="239.2" fill="#606060"/>
<path d="M224.5 1394.6V1157.9H241.9V1394.6" fill="none" stroke="#6a6a6a" stroke-width="1.6"/>
<path d="M222.85 1394.6V1156.25H243.55V1394.6" fill="none" stroke="#1e1e1e" stroke-width="1.7"/>
<path d="M233.2 1155.9V1140.9M228.5 1140.9H237.9" stroke="#1e1e1e" stroke-width="1.4" fill="none"/>
<text x="233.2" y="1142.3" class="st">*</text>
<rect x="251.7" y="1164.6" width="22.4" height="230" fill="#e0e0e0"/>
<path d="M254.2 1394.6V1167.1H271.6V1394.6" fill="none" stroke="#f3f3f3" stroke-width="1.6"/>
<path d="M252.55 1394.6V1165.45H273.25V1394.6" fill="none" stroke="#1e1e1e" stroke-width="1.7"/>
<path d="M262.9 1165.1V1164M258.2 1164H267.6" stroke="#1e1e1e" stroke-width="1.4" fill="none"/>
<text x="262.9" y="1166.1" class="st">*</text>
<rect x="318.15" y="1287.5" width="22.4" height="107.1" fill="#000000"/>
<path d="M319 1394.6V1288.35H339.7V1394.6" fill="none" stroke="#000" stroke-width="1.7"/>
<path d="M329.35 1288V1268.1M324.65 1268.1H334.05" stroke="#1e1e1e" stroke-width="1.4" fill="none"/>
<rect x="347.85" y="1281.6" width="22.4" height="113" fill="#c0c0c0"/>
<path d="M350.35 1394.6V1284.1H367.75V1394.6" fill="none" stroke="#d6d6d6" stroke-width="1.6"/>
<path d="M348.7 1394.6V1282.45H369.4V1394.6" fill="none" stroke="#1e1e1e" stroke-width="1.7"/>
<path d="M359.05 1282.1V1255M354.35 1255H363.75" stroke="#1e1e1e" stroke-width="1.4" fill="none"/>
<rect x="377.55" y="1227.4" width="22.4" height="167.2" fill="#606060"/>
<path d="M380.05 1394.6V1229.9H397.45V1394.6" fill="none" stroke="#6a6a6a" stroke-width="1.6"/>
<path d="M378.4 1394.6V1228.25H399.1V1394.6" fill="none" stroke="#1e1e1e" stroke-width="1.7"/>
<path d="M388.75 1227.9V1224.8M384.05 1224.8H393.45" stroke="#1e1e1e" stroke-width="1.4" fill="none"/>
<text x="388.75" y="1227.4" class="st">*</text>
<rect x="407.25" y="1167.4" width="22.4" height="227.2" fill="#e0e0e0"/>
<path d="M409.75 1394.6V1169.9H427.15V1394.6" fill="none" stroke="#f3f3f3" stroke-width="1.6"/>
<path d="M408.1 1394.6V1168.25H428.8V1394.6" fill="none" stroke="#1e1e1e" stroke-width="1.7"/>
<path d="M418.45 1167.9V1162.2M413.75 1162.2H423.15" stroke="#1e1e1e" stroke-width="1.4" fill="none"/>
<text x="418.45" y="1165.2" class="st">*</text>
<rect x="473.05" y="1253.4" width="22.4" height="141.2" fill="#000000"/>
<path d="M473.9 1394.6V1254.25H494.6V1394.6" fill="none" stroke="#000" stroke-width="1.7"/>
<path d="M484.25 1253.9V1245.4M479.55 1245.4H488.95" stroke="#1e1e1e" stroke-width="1.4" fill="none"/>
<rect x="502.75" y="1205.5" width="22.4" height="189.1" fill="#c0c0c0"/>
<path d="M505.25 1394.6V1208H522.65V1394.6" fill="none" stroke="#d6d6d6" stroke-width="1.6"/>
<path d="M503.6 1394.6V1206.35H524.3V1394.6" fill="none" stroke="#1e1e1e" stroke-width="1.7"/>
<path d="M513.95 1206V1190.1M509.25 1190.1H518.65" stroke="#1e1e1e" stroke-width="1.4" fill="none"/>
<text x="513.95" y="1188.9" class="st">*</text>
<rect x="532.45" y="1205.5" width="22.4" height="189.1" fill="#606060"/>
<path d="M534.95 1394.6V1208H552.35V1394.6" fill="none" stroke="#6a6a6a" stroke-width="1.6"/>
<path d="M533.3 1394.6V1206.35H554V1394.6" fill="none" stroke="#1e1e1e" stroke-width="1.7"/>
<path d="M543.65 1206V1187.7M538.95 1187.7H548.35" stroke="#1e1e1e" stroke-width="1.4" fill="none"/>
<text x="543.65" y="1190.3" class="st">*</text>
<rect x="562.15" y="1253.6" width="22.4" height="141" fill="#e0e0e0"/>
<path d="M564.65 1394.6V1256.1H582.05V1394.6" fill="none" stroke="#f3f3f3" stroke-width="1.6"/>
<path d="M563 1394.6V1254.45H583.7V1394.6" fill="none" stroke="#1e1e1e" stroke-width="1.7"/>
<path d="M573.35 1254.1V1243M568.65 1243H578.05" stroke="#1e1e1e" stroke-width="1.4" fill="none"/>
<path d="M135 1396.8H606.7" stroke="#333" stroke-width="1.6" fill="none"/>
<path d="M140.2 1396.8V1061.3" stroke="#3c3c3c" stroke-width="1.8" fill="none"/>
<path d="M135 1396.8H140.2" stroke="#222" stroke-width="1.5"/>
<text x="125.5" y="1403.4" class="tk">0</text>
<path d="M135 1329.7H140.2" stroke="#222" stroke-width="1.5"/>
<text x="125.5" y="1336.3" class="tk">1</text>
<path d="M135 1262.6H140.2" stroke="#222" stroke-width="1.5"/>
<text x="125.5" y="1269.2" class="tk">2</text>
<path d="M135 1195.5H140.2" stroke="#222" stroke-width="1.5"/>
<text x="125.5" y="1202.1" class="tk">3</text>
<path d="M135 1128.4H140.2" stroke="#222" stroke-width="1.5"/>
<text x="125.5" y="1135" class="tk">4</text>
<path d="M135 1061.3H140.2" stroke="#222" stroke-width="1.5"/>
<text x="125.5" y="1067.9" class="tk">5</text>
<path d="M218.35 1396.8V1401.8" stroke="#222" stroke-width="1.4"/>
<text x="218.35" y="1441.8" class="cat">HEMn-LP</text>
<path d="M373.9 1396.8V1401.8" stroke="#222" stroke-width="1.4"/>
<text x="373.9" y="1441.8" class="cat">A375</text>
<path d="M528.8 1396.8V1401.8" stroke="#222" stroke-width="1.4"/>
<text x="528.8" y="1441.8" class="cat">A2058</text>
<text transform="translate(97.4 1396.4) rotate(-90) scale(1 1.09)" class="yl">Lipid Ion Abundance/&#956; g Protein</text>
<rect x="486.5" y="1057" width="41.5" height="8.7" fill="#000000" stroke="#1e1e1e" stroke-width="1.6"/>
<text x="537.6" y="1068.4" class="lg">Control</text>
<rect x="486.5" y="1079.8" width="41.5" height="8.7" fill="#c0c0c0" stroke="#1e1e1e" stroke-width="1.6"/>
<rect x="488" y="1081.3" width="38.5" height="5.7" fill="none" stroke="#d6d6d6" stroke-width="1.4"/>
<text x="537.6" y="1089.5" class="lg">2-DG</text>
<rect x="486.5" y="1102.8" width="41.5" height="8.7" fill="#606060" stroke="#1e1e1e" stroke-width="1.6"/>
<rect x="488" y="1104.3" width="38.5" height="5.7" fill="none" stroke="#6a6a6a" stroke-width="1.4"/>
<text x="537.6" y="1112.5" class="lg">COR</text>
<rect x="486.5" y="1124.2" width="41.5" height="8.7" fill="#e0e0e0" stroke="#1e1e1e" stroke-width="1.6"/>
<rect x="488" y="1125.7" width="38.5" height="5.7" fill="none" stroke="#f3f3f3" stroke-width="1.4"/>
<text x="537.6" y="1134.9" class="lg">2-DG + COR</text>
<text transform="translate(343.3 1058.4) scale(1 1.05)" class="ti">TG</text>
<text x="-0.5" y="1029.2" class="pl">G</text>
</svg>
</body></html>
